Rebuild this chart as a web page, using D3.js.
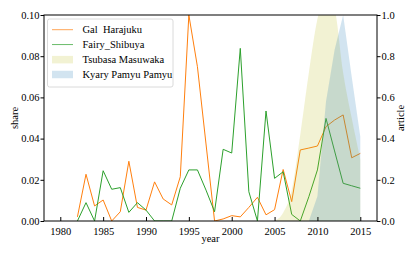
<!DOCTYPE html>
<html>
<head>
<meta charset="utf-8">
<script src="https://cdn.jsdelivr.net/npm/d3@7"></script>
<style>
  html, body { margin: 0; padding: 0; background: #fff; }
</style>
</head>
<body>
<svg id="chart" width="415" height="256"></svg>
<script>
// Values.
const years         = d3.range( 1982, 2016 );
const galHarajuku   = [ 0.002, 0.0227, 0.0073, 0.0102, 0.0, 0.0045, 0.029, 0.0066, 0.0053, 0.019,
                        0.0107, 0.0078, 0.0215, 0.100, 0.0749, 0.0374, 0.0, 0.001, 0.0026, 0.002,
                        0.0066, 0.0115, 0.003, 0.0055, 0.025, 0.0094, 0.0345, 0.0354, 0.0364, 0.0458,
                        0.049, 0.0515, 0.0307, 0.0328 ];
const fairyShibuya  = [ 0.0, 0.0089, 0.0, 0.0244, 0.0154, 0.0162, 0.0042, 0.0089, 0.0053, 0.0,
                        0.0, 0.0, 0.0159, 0.0248, 0.0248, 0.015, 0.0045, 0.0348, 0.033, 0.0838,
                        0.0142, 0.0, 0.0534, 0.0207, 0.0239, 0.0032, 0.0, 0.0118, 0.0248, 0.0498,
                        0.034, 0.0183, 0.0171, 0.0159 ];
const articleYears  = d3.range( 2005, 2016 );
const tsubasa       = [ 0.0, 0.04, 0.15, 0.42, 0.72, 0.98, 1.1, 1.03, 0.72, 0.5, 0.30 ];
const kyary         = [ 0.0, 0.0, 0.0, 0.0, 0.0, 0.12, 0.58, 0.83, 1.0, 0.7, 0.41 ];
const legendNames   = [ 'Gal  Harajuku', 'Fairy_Shibuya', 'Tsubasa Masuwaka', 'Kyary Pamyu Pamyu' ];
const xTicks        = [ 1980, 1985, 1990, 1995, 2000, 2005, 2010, 2015 ];
const shareTicks    = [ 0, 0.02, 0.04, 0.06, 0.08, 0.10 ];
const articleTicks  = [ 0, 0.2, 0.4, 0.6, 0.8, 1.0 ];

// Sizes.
const margin = { top: 15, right: 38, bottom: 35, left: 44 };
const width  = 415 - margin.left - margin.right;
const height = 256 - margin.top  - margin.bottom;

const font   = 'Liberation Serif';
const colors = { gal: '#ff7f0e', fairy: '#2ca02c', tsubasa: '#bcbd22', kyary: '#1f77b4' };

const svg = d3.select( '#chart' );
const g   = svg.append( 'g' ).attr( 'transform', `translate(${margin.left},${margin.top})` );

// Scales.
const x  = d3.scaleLinear( ).domain( [ 1978.1, 2016.95 ] ).range( [ 0, width ] );
const yL = d3.scaleLinear( ).domain( [ 0, 0.1 ] ).range( [ height, 0 ] );
const yR = d3.scaleLinear( ).domain( [ 0, 1 ] ).range( [ height, 0 ] );

g.append( 'clipPath' ).attr( 'id', 'plot-clip' )
  .append( 'rect' ).attr( 'width', width ).attr( 'height', height );

// Lines (left axis).
const lineL = d3.line( ).x( d => x( d[0] ) ).y( d => yL( d[1] ) );
const plot  = g.append( 'g' ).attr( 'clip-path', 'url(#plot-clip)' );
plot.append( 'path' )
  .attr( 'd'           , lineL( years.map( ( yr, i ) => [ yr, galHarajuku[i] ] ) ) )
  .attr( 'fill'        , 'none' )
  .attr( 'stroke'      , colors.gal )
  .attr( 'stroke-width', 1 );
plot.append( 'path' )
  .attr( 'd'           , lineL( years.map( ( yr, i ) => [ yr, fairyShibuya[i] ] ) ) )
  .attr( 'fill'        , 'none' )
  .attr( 'stroke'      , colors.fairy )
  .attr( 'stroke-width', 1 );

// Filled areas (right axis), drawn over the lines like a twin axis.
const areaSmooth = d3.area( ).curve( d3.curveMonotoneX )
  .x( d => x( d[0] ) ).y0( yR( 0 ) ).y1( d => yR( d[1] ) );
const areaFlat = d3.area( )
  .x( d => x( d[0] ) ).y0( yR( 0 ) ).y1( d => yR( d[1] ) );
plot.append( 'path' )
  .attr( 'd'           , areaSmooth( articleYears.map( ( yr, i ) => [ yr, tsubasa[i] ] ) ) )
  .attr( 'fill'        , colors.tsubasa )
  .attr( 'fill-opacity', 0.2 );
plot.append( 'path' )
  .attr( 'd'           , areaFlat( articleYears.map( ( yr, i ) => [ yr, kyary[i] ] ).filter( ( d, i ) => i >= 4 ) ) )
  .attr( 'fill'        , colors.kyary )
  .attr( 'fill-opacity', 0.2 );

// Axes.
const xAxis = g.append( 'g' ).attr( 'class', 'axis' ).attr( 'transform', `translate(0,${height})` );
xAxis.call( d3.axisBottom( x ).tickValues( d3.range( 1979, 2017 ) ).tickSizeInner( -3 ).tickSizeOuter( 0 ).tickFormat( '' ) );
xAxis.call( d3.axisBottom( x ).tickValues( xTicks ).tickSizeInner( -4 ).tickSizeOuter( 0 ).tickPadding( 7 ).tickFormat( d3.format( 'd' ) ) );

const yAxisL = g.append( 'g' ).attr( 'class', 'axis' );
yAxisL.call( d3.axisLeft( yL ).tickValues( d3.range( 0, 0.1001, 0.005 ) ).tickSizeInner( 2 ).tickSizeOuter( 0 ).tickFormat( '' ) );
yAxisL.call( d3.axisLeft( yL ).tickValues( shareTicks ).tickSizeInner( 3.5 ).tickSizeOuter( 0 ).tickPadding( 1 ).tickFormat( d3.format( '.2f' ) ) );

const yAxisR = g.append( 'g' ).attr( 'class', 'axis' ).attr( 'transform', `translate(${width},0)` );
yAxisR.call( d3.axisRight( yR ).tickValues( d3.range( 0, 1.001, 0.05 ) ).tickSizeInner( 2 ).tickSizeOuter( 0 ).tickFormat( '' ) );
yAxisR.call( d3.axisRight( yR ).tickValues( articleTicks ).tickSizeInner( 3.5 ).tickSizeOuter( 0 ).tickPadding( 1 ).tickFormat( d3.format( '.1f' ) ) );

g.selectAll( '.axis' ).attr( 'font-family', font ).attr( 'font-size', 10.5 );
g.selectAll( '.axis .domain' ).remove( );

// Frame.
g.append( 'rect' )
  .attr( 'width' , width )
  .attr( 'height', height )
  .attr( 'fill'  , 'none' )
  .attr( 'stroke', '#000' )
  .attr( 'stroke-width', 1 );

// Axis labels.
const labels = g.append( 'g' ).attr( 'font-family', font ).attr( 'font-size', 10.5 ).attr( 'text-anchor', 'middle' );
labels.append( 'text' )
  .attr( 'x', width / 2 ).attr( 'y', height + 21 )
  .text( 'year' );
labels.append( 'text' )
  .attr( 'transform', `translate(${-26},${height / 2}) rotate(-90)` )
  .text( 'share' );
labels.append( 'text' )
  .attr( 'transform', `translate(${width + 27},${height / 2}) rotate(-90)` )
  .text( 'article' );

// Legend.
const legend = g.append( 'g' ).attr( 'transform', 'translate(3.5,4)' )
  .attr( 'font-family', font ).attr( 'font-size', 10.5 );
legend.append( 'rect' )
  .attr( 'width', 125.5 ).attr( 'height', 68 ).attr( 'rx', 2 )
  .attr( 'fill', '#fff' ).attr( 'fill-opacity', 0.8 )
  .attr( 'stroke', '#d0d0d0' ).attr( 'stroke-width', 0.8 );
const items = legend.selectAll( 'g.item' )
  .data( legendNames )
  .enter( )
  .append( 'g' )
    .attr( 'class', 'item' )
    .attr( 'transform', ( d, i ) => `translate(0,${10.7 + i * 14.85})` );
items.filter( ( d, i ) => i < 2 ).append( 'line' )
  .attr( 'x1', 4.5 ).attr( 'x2', 25.5 )
  .attr( 'stroke', ( d, i ) => i === 0 ? colors.gal : colors.fairy )
  .attr( 'stroke-opacity', 0.7 )
  .attr( 'stroke-width', 1 );
items.filter( ( d, i ) => i >= 2 ).append( 'rect' )
  .attr( 'x', 4.5 ).attr( 'y', -3.5 ).attr( 'width', 21 ).attr( 'height', 7.5 )
  .attr( 'fill', ( d, i ) => i === 0 ? colors.tsubasa : colors.kyary )
  .attr( 'fill-opacity', 0.2 );
items.append( 'text' )
  .attr( 'x', 35 ).attr( 'y', 3.6 )
  .style( 'white-space', 'pre' )
  .text( d => d );
</script>
</body>
</html>
